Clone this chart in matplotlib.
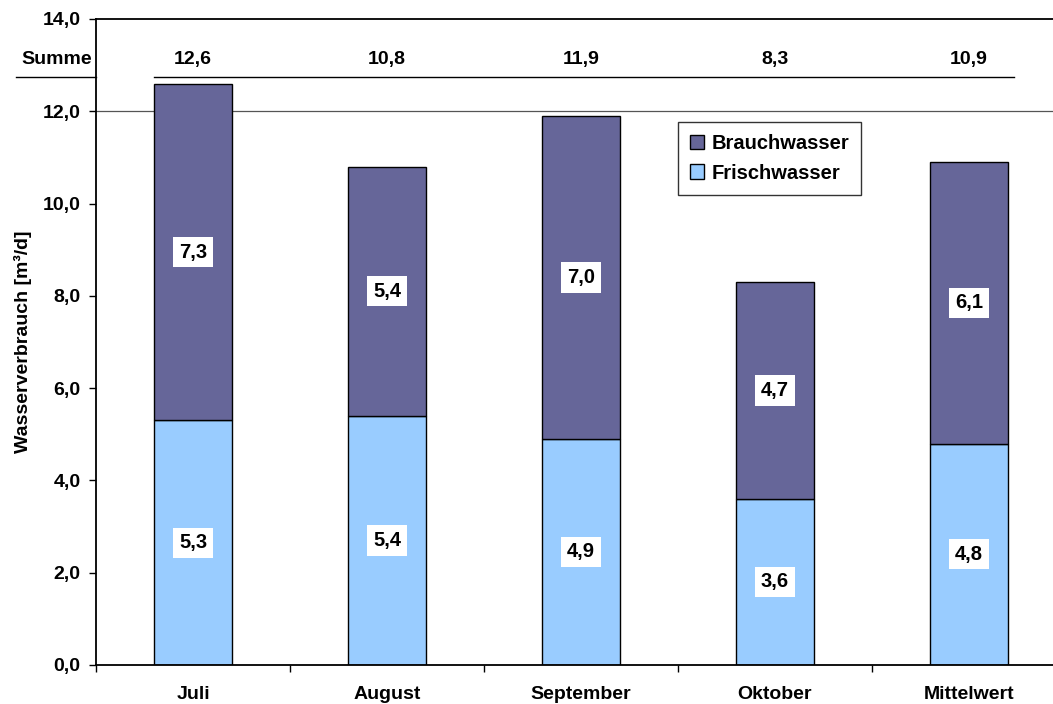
"""
Stacked bar chart of water usage (Frischwasser / Brauchwasser) per month.
"""
import matplotlib.pyplot as plt
from matplotlib.ticker import FixedLocator, FuncFormatter

plt.rcParams['font.family'] = ['Liberation Sans', 'DejaVu Sans']
plt.rcParams['font.weight'] = 'bold'

categories = ['Juli', 'August', 'September', 'Oktober', 'Mittelwert']
frischwasser = [5.3, 5.4, 4.9, 3.6, 4.8]
brauchwasser = [7.3, 5.4, 7.0, 4.7, 6.1]
summe = [f + b for f, b in zip(frischwasser, brauchwasser)]
yticks = [0, 2, 4, 6, 8, 10, 12, 14]

FS = 14


def de(v):
    return f"{v:.1f}".replace('.', ',')


fig = plt.figure(figsize=(10.53, 7.04), dpi=100)
ax = fig.add_axes([96 / 1053, 39 / 704, 970 / 1053, 646 / 704])

x = range(len(categories))
c_frisch = '#99ccff'
c_brauch = '#666699'
ax.bar(x, frischwasser, width=0.4, color=c_frisch, edgecolor='black', linewidth=1.0,
       label='Frischwasser', zorder=2)
ax.bar(x, brauchwasser, width=0.4, bottom=frischwasser, color=c_brauch, edgecolor='black',
       linewidth=1.0, label='Brauchwasser', zorder=2)

box = dict(facecolor='white', edgecolor='none', pad=4)
for i in x:
    ax.text(i, frischwasser[i] / 2, de(frischwasser[i]), ha='center', va='center',
            fontsize=FS + 0.5, fontweight='bold', bbox=box, zorder=3)
    ax.text(i, frischwasser[i] + brauchwasser[i] / 2, de(brauchwasser[i]), ha='center',
            va='center', fontsize=FS + 0.5, fontweight='bold', bbox=box, zorder=3)
    ax.text(i, 13.13, de(summe[i]), ha='center', va='center', fontsize=FS, fontweight='bold')

# Summe row
ax.plot([-0.2, 4.23], [12.74, 12.74], color='black', lw=1.0)
ax.plot([-0.912, -0.5], [12.74, 12.74], color='black', lw=1.0, clip_on=False)
ax.text(-0.52, 13.13, 'Summe', ha='right', va='center', fontsize=FS, fontweight='bold')

ax.axhline(12, color='#555555', lw=0.9, zorder=1)

ax.set_xlim(-0.5, 4.5)
ax.set_ylim(0, 14)
ax.set_yticks(yticks)
ax.yaxis.set_major_formatter(FuncFormatter(lambda v, p: de(v)))
ax.set_xticks(list(x))
ax.set_xticklabels(categories, fontsize=FS, fontweight='bold')
ax.xaxis.set_minor_locator(FixedLocator([i - 0.5 for i in range(len(categories) + 1)]))
ax.tick_params(axis='x', which='major', length=0, pad=15)
ax.tick_params(axis='x', which='minor', length=5, width=1, direction='out')
ax.tick_params(axis='y', length=5, width=1, direction='out', labelsize=FS, pad=6)
for lab in ax.get_yticklabels():
    lab.set_fontweight('bold')

ax.set_ylabel('Wasserverbrauch [m³/d]', fontsize=FS, fontweight='bold')
ax.yaxis.set_label_coords(-0.066, 0.5)

ax.spines['right'].set_visible(False)
for s in ['left', 'bottom', 'top']:
    ax.spines[s].set_linewidth(1.3)

handles, labels = ax.get_legend_handles_labels()
leg = ax.legend(handles[::-1], labels[::-1], loc='upper left', bbox_to_anchor=(0.6, 0.84),
                prop={'weight': 'bold', 'size': FS + 0.5}, frameon=True, fancybox=False,
                edgecolor='black', handlelength=0.7, handleheight=0.7, handletextpad=0.35,
                labelspacing=0.5, borderpad=0.6, borderaxespad=0)
leg.get_frame().set_linewidth(1.0)

plt.savefig('out.png')
